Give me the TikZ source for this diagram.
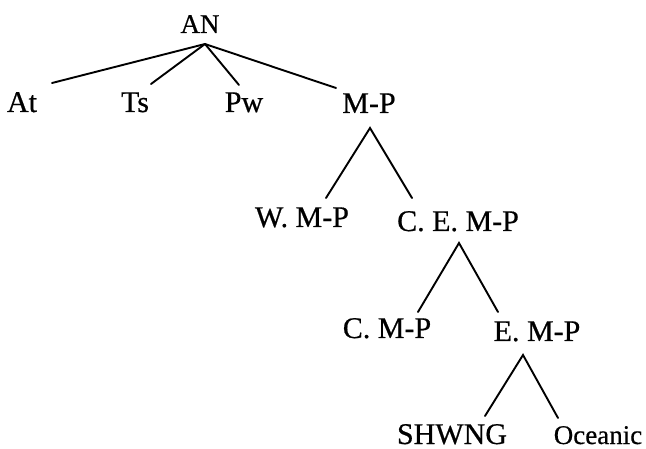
\documentclass[tikz,border=0pt]{standalone}
\usepackage{fontspec}
\setmainfont{Liberation Serif}[FakeBold=0.6]
\usetikzlibrary{calc}
\tikzset{
  lbl/.style={inner sep=0pt, anchor=base, font=\fontsize{30}{32}\selectfont},
  rootlbl/.style={lbl, font=\fontsize{27}{29}\selectfont},
  narrowlbl/.style={lbl, font=\fontsize{27}{29}\selectfont},
  branch/.style={line width=1.9pt, line cap=round}
}
\begin{document}
\begin{tikzpicture}[x=1pt, y=-1pt]
  \useasboundingbox (0,0) rectangle (646,449);

  % labels, placed by baseline centre
  \node[rootlbl]   (an)   at (200,33)  {AN};
  \node[lbl]       (at)   at (22,112)  {At};
  \node[lbl]       (ts)   at (135,112) {Ts};
  \node[lbl]       (pw)   at (244,112) {Pw};
  \node[lbl]       (mp)   at (369,113) {M-P};
  \node[lbl]       (wmp)  at (302,227) {W. M-P};
  \node[lbl]       (cemp) at (458,231) {C. E. M-P};
  \node[lbl]       (cmp)  at (387,338) {C. M-P};
  \node[lbl]       (emp)  at (537,341) {E. M-P};
  \node[lbl]       (shw)  at (452,444) {SHWNG};
  \node[narrowlbl] (oce)  at (598,444) {Oceanic};

  % branches
  \draw[branch] ($(an.base)+(5,11)$) -- ($(at.base)+(30,-29)$);
  \draw[branch] ($(an.base)+(5,11)$) -- ($(ts.base)+(16,-28)$);
  \draw[branch] ($(an.base)+(5,11)$) -- ($(pw.base)+(-5,-27)$);
  \draw[branch] ($(an.base)+(5,11)$) -- ($(mp.base)+(-33,-25)$);

  \draw[branch] ($(wmp.base)+(24,-29)$) -- ($(mp.base)+(1,15)$) -- ($(cemp.base)+(-46,-33)$);
  \draw[branch] ($(cmp.base)+(31,-26)$) -- ($(cemp.base)+(1,12)$) -- ($(emp.base)+(-39,-29)$);
  \draw[branch] ($(shw.base)+(33,-28)$) -- ($(emp.base)+(-14,14)$) -- ($(oce.base)+(-40,-26)$);
\end{tikzpicture}
\end{document}
